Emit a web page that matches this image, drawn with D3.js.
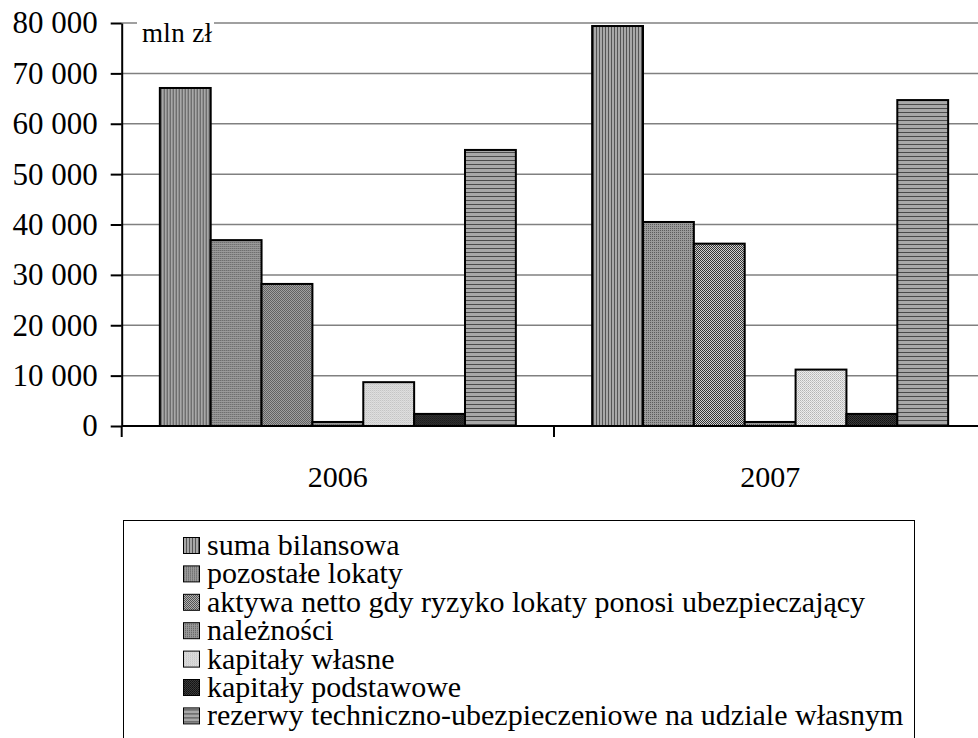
<!DOCTYPE html>
<html lang="pl">
<head>
<meta charset="utf-8">
<title>Lokaty i rezerwy</title>
<script src="https://cdn.jsdelivr.net/npm/d3@7"></script>
<style>
  body { margin: 0; background: #fff; }
  .grid line { stroke: #808080; stroke-width: 1.5px; }
  .axis path, .axis line { stroke: #000; stroke-width: 2px; }
  .axis text { fill: #000; }
</style>
</head>
<body>
<div id="chart"></div>
<script>
// dane (mln zł)
var years = ["2006", "2007"];
var series = [
  "suma bilansowa",
  "pozostałe lokaty",
  "aktywa netto gdy ryzyko lokaty ponosi ubezpieczający",
  "należności",
  "kapitały własne",
  "kapitały podstawowe",
  "rezerwy techniczno-ubezpieczeniowe na udziale własnym"
];
var values2006 = [67100, 36900, 28200, 800, 8700, 2400, 54800];
var values2007 = [79400, 40500, 36200, 800, 11200, 2400, 64700];
var yTicks = [0, 10000, 20000, 30000, 40000, 50000, 60000, 70000, 80000];
var unitLabel = "mln zł";

var serif = "'Liberation Serif', 'Times New Roman', serif";
var width = 978, height = 738;
var x0left = 121.7, x0right = 986.3, yTop = 23, yBase = 426;

var data = years.map(function(y, i) {
  var vals = i === 0 ? values2006 : values2007;
  return { year: y, values: series.map(function(s, j) { return { key: s, idx: j, value: vals[j] }; }) };
});

var svg = d3.select("#chart").append("svg")
    .attr("width", width)
    .attr("height", height)
    .attr("font-family", serif)
    .style("display", "block");

svg.append("rect").attr("width", width).attr("height", height).attr("fill", "#fff");

// wzory wypełnień (czarno-białe jak w oryginale)
var defs = svg.append("defs");
function pattern(id, w, h, bg, cells) {
  var p = defs.append("pattern")
      .attr("id", id)
      .attr("patternUnits", "userSpaceOnUse")
      .attr("width", w).attr("height", h);
  p.append("rect").attr("width", w).attr("height", h).attr("fill", bg);
  cells.forEach(function(c) {
    p.append("rect").attr("x", c[0]).attr("y", c[1]).attr("width", c[2]).attr("height", c[3]).attr("fill", c[4]);
  });
}
pattern("p0", 3, 3, "#a8a8a8", [[0, 0, 1, 3, "#555"]]);
pattern("p1", 2, 2, "#9a9a9a", [[0, 0, 1, 1, "#5c5c5c"]]);
pattern("p2", 2, 2, "#d0d0d0", [[0, 0, 1, 1, "#333"], [1, 1, 1, 1, "#333"]]);
pattern("p3", 2, 2, "#989898", [[1, 0, 1, 1, "#606060"]]);
pattern("p4", 2, 2, "#ececec", [[0, 0, 1, 1, "#b4b4b4"], [1, 1, 1, 1, "#c8c8c8"]]);
pattern("p5", 2, 2, "#3a3a3a", [[0, 0, 1, 1, "#111"], [1, 1, 1, 1, "#1a1a1a"]]);
pattern("p6", 4, 4, "#a8a8a8", [[0, 0, 4, 1, "#4a4a4a"]]);

var x0 = d3.scaleBand()
    .domain(years)
    .range([x0left, x0right]);

var x1 = d3.scaleBand()
    .domain(series)
    .range([0, x0.bandwidth()])
    .paddingInner(0)
    .paddingOuter(0.75);

var y = d3.scaleLinear()
    .domain([0, 80000])
    .range([yBase, yTop]);

var fmt = d3.formatLocale({ decimal: ",", thousands: " ", grouping: [3], currency: ["", ""] }).format(",");

// linie siatki
svg.append("g")
    .attr("class", "grid")
    .selectAll("line")
    .data(yTicks.filter(function(d) { return d > 0; }))
  .enter().append("line")
    .attr("x1", x0left)
    .attr("x2", width)
    .attr("y1", function(d) { return y(d); })
    .attr("y2", function(d) { return y(d); });

// słupki
var groups = svg.append("g")
  .selectAll("g")
    .data(data)
  .enter().append("g")
    .attr("transform", function(d) { return "translate(" + x0(d.year) + ",0)"; });

groups.selectAll("rect")
    .data(function(d) { return d.values; })
  .enter().append("rect")
    .attr("x", function(d) { return x1(d.key); })
    .attr("y", function(d) { return y(d.value); })
    .attr("width", x1.bandwidth())
    .attr("height", function(d) { return yBase - y(d.value); })
    .attr("fill", function(d) { return "url(#p" + d.idx + ")"; })
    .attr("stroke", "#000")
    .attr("stroke-width", 2);

// oś Y
svg.append("g")
    .attr("class", "axis")
    .attr("transform", "translate(" + x0left + ",0)")
    .call(d3.axisLeft(y).tickValues(yTicks).tickSize(11).tickSizeOuter(0).tickPadding(13).tickFormat(fmt))
    .attr("font-family", serif)
    .attr("font-size", 31);

// oś X
svg.append("line")
    .attr("x1", x0left).attr("x2", width)
    .attr("y1", yBase).attr("y2", yBase)
    .attr("stroke", "#000").attr("stroke-width", 2);

var xAxis = svg.append("g")
    .attr("class", "axis")
    .attr("transform", "translate(0," + yBase + ")")
    .call(d3.axisBottom(x0).tickSize(0).tickPadding(40))
    .attr("font-family", serif)
    .attr("font-size", 30);
xAxis.select(".domain").remove();

xAxis.selectAll(".boundary")
    .data(years.concat(["end"]))
  .enter().append("line")
    .attr("x1", function(d) { return d === "end" ? x0right : x0(d); })
    .attr("x2", function(d) { return d === "end" ? x0right : x0(d); })
    .attr("y1", 0)
    .attr("y2", 11)
    .attr("stroke", "#000")
    .attr("stroke-width", 2);

// jednostka
var unit = svg.append("g");
unit.append("rect")
    .attr("x", 137).attr("y", 12).attr("width", 77).attr("height", 32)
    .attr("fill", "#fff");
unit.append("text")
    .attr("x", 142).attr("y", 42)
    .attr("font-size", 27)
    .attr("textLength", 70)
    .text(unitLabel);

// legenda
var legend = svg.append("g");
legend.append("rect")
    .attr("x", 123.5).attr("y", 520.5)
    .attr("width", 791).attr("height", 230)
    .attr("fill", "#fff")
    .attr("stroke", "#000")
    .attr("stroke-width", 1);

var item = legend.selectAll(".item")
    .data(series)
  .enter().append("g")
    .attr("class", "item")
    .attr("transform", function(d, i) { return "translate(0," + (555 + i * 28.4) + ")"; });

item.append("rect")
    .attr("x", 183.5).attr("y", -17.5)
    .attr("width", 16).attr("height", 16)
    .attr("fill", function(d, i) { return "url(#p" + i + ")"; })
    .attr("stroke", "#000")
    .attr("stroke-width", 1);

item.append("text")
    .attr("x", 207)
    .attr("y", 0)
    .attr("font-size", 30)
    .text(function(d) { return d; });
</script>
</body>
</html>
